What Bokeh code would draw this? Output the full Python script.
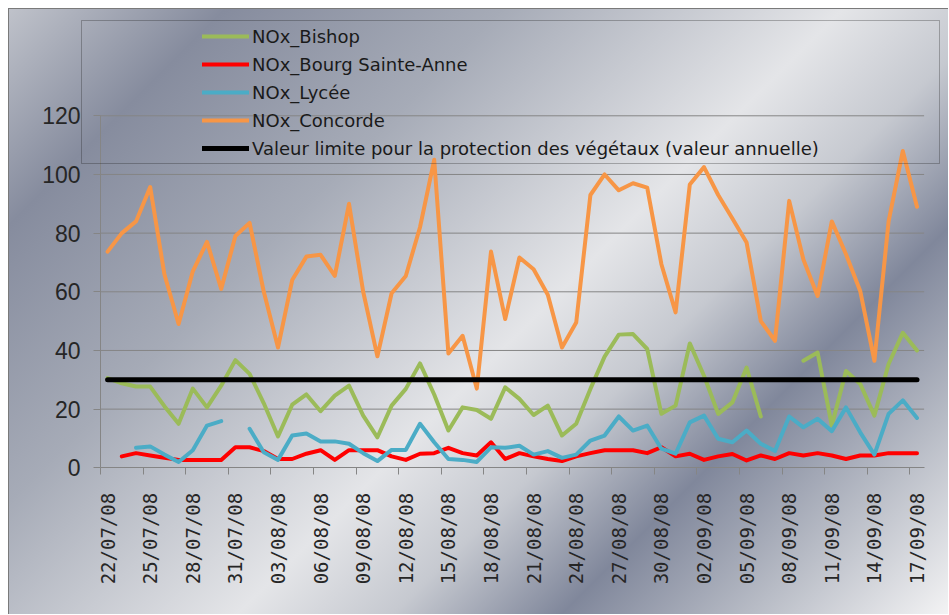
import math
from bokeh.plotting import figure
from bokeh.models import (FixedTicker, LinearAxis, Legend, LegendItem,
                          BoxAnnotation, Range1d, ColumnDataSource)
from bokeh.embed import file_html
from bokeh.resources import INLINE

nan = float("nan")

dates = [
    "22/07/08", "23/07/08", "24/07/08", "25/07/08", "26/07/08", "27/07/08", "28/07/08",
    "29/07/08", "30/07/08", "31/07/08", "01/08/08", "02/08/08", "03/08/08", "04/08/08",
    "05/08/08", "06/08/08", "07/08/08", "08/08/08", "09/08/08", "10/08/08", "11/08/08",
    "12/08/08", "13/08/08", "14/08/08", "15/08/08", "16/08/08", "17/08/08", "18/08/08",
    "19/08/08", "20/08/08", "21/08/08", "22/08/08", "23/08/08", "24/08/08", "25/08/08",
    "26/08/08", "27/08/08", "28/08/08", "29/08/08", "30/08/08", "31/08/08", "01/09/08",
    "02/09/08", "03/09/08", "04/09/08", "05/09/08", "06/09/08", "07/09/08", "08/09/08",
    "09/09/08", "10/09/08", "11/09/08", "12/09/08", "13/09/08", "14/09/08", "15/09/08",
    "16/09/08", "17/09/08",
]

tick_labels = [
    "22/07/08", "25/07/08", "28/07/08", "31/07/08", "03/08/08", "06/08/08", "09/08/08",
    "12/08/08", "15/08/08", "18/08/08", "21/08/08", "24/08/08", "27/08/08", "30/08/08",
    "02/09/08", "05/09/08", "08/09/08", "11/09/08", "14/09/08", "17/09/08",
]

y_ticks = [0, 20, 40, 60, 80, 100, 120]

nox_bishop = [
    30.6, 28.8, 27.7, 27.7, 21.0, 15.0, 27.0, 20.6, 28.0, 36.7,
    32.0, 22.0, 10.7, 21.5, 25.0, 19.3, 24.6, 28.0, 17.8, 10.4,
    21.2, 26.9, 35.6, 25.0, 12.7, 20.6, 19.7, 16.7, 27.4, 23.5,
    18.0, 21.2, 11.0, 15.0, 26.9, 37.9, 45.4, 45.6, 40.5, 18.4,
    21.2, 42.4, 31.4, 18.4, 22.3, 34.2, 17.5, nan, nan, 36.5,
    39.3, 14.4, 33.0, 28.6, 17.8, 35.4, 46.0, 40.0,
]

nox_bourg = [
    nan, 3.9, 5.0, 4.2, 3.4, 2.7, 2.7, 2.7, 2.7, 7.0,
    7.0, 5.7, 3.0, 3.0, 4.8, 6.0, 2.7, 6.0, 6.0, 6.0,
    3.9, 2.7, 4.8, 5.0, 6.8, 5.0, 4.2, 8.7, 3.0, 5.0,
    3.9, 3.0, 2.3, 3.9, 5.0, 6.0, 6.0, 6.0, 5.0, 7.0,
    3.9, 4.8, 2.7, 3.9, 4.7, 2.5, 4.2, 3.0, 5.0, 4.2,
    5.0, 4.2, 3.0, 4.2, 4.2, 5.0, 5.0, 5.0,
]

nox_lycee = [
    nan, nan, 6.8, 7.3, 4.5, 2.0, 6.0, 14.4, 15.9, nan,
    13.3, 5.3, 2.7, 11.0, 11.7, 9.0, 9.0, 8.2, 5.0, 2.3,
    6.1, 6.1, 15.0, 8.7, 3.0, 2.7, 2.0, 7.0, 6.8, 7.5,
    4.5, 5.7, 3.4, 4.5, 9.3, 11.0, 17.5, 12.7, 14.4, 6.5,
    4.8, 15.5, 17.8, 9.9, 8.7, 12.7, 8.2, 5.7, 17.5, 13.8,
    16.7, 12.5, 20.6, 12.1, 4.5, 18.4, 23.0, 17.0,
]

nox_concorde = [
    73.7, 80.0, 84.0, 95.7, 66.0, 49.0, 67.0, 77.0, 61.0, 79.0,
    83.5, 60.0, 41.0, 64.0, 72.0, 72.6, 65.4, 90.0, 60.0, 38.0,
    59.5, 65.4, 82.0, 105.0, 39.0, 45.0, 27.0, 73.7, 50.7, 71.7,
    67.7, 59.0, 41.0, 49.5, 93.0, 100.0, 94.6, 97.0, 95.5, 69.4,
    53.0, 96.6, 102.5, 93.0, 85.0, 76.8, 50.0, 43.3, 91.0, 71.0,
    58.6, 84.0, 72.8, 60.3, 36.5, 84.0, 108.0, 89.0,
]

limit_vegetaux = [30.0] * len(dates)

series_names = ["NOx_Bishop", "NOx_Bourg Sainte-Anne", "NOx_Lycée", "NOx_Concorde",
                "Valeur limite pour la protection des végétaux (valeur annuelle)"]
series_colors = ["#9bbb59", "#ff0000", "#4bacc6", "#f79646", "#000000"]

# ---- layout (pixels inside the figure) ----
W, H = 940, 606
PLOT_L, PLOT_R = 91.0, 914.6      # x = -0.5 .. n-0.5
PLOT_T, PLOT_B = 106.3, 458.3     # y = 120 .. 0
Y_MAX = 120.0

n = len(dates)
kx = (PLOT_R - PLOT_L) / n
ky = (PLOT_B - PLOT_T) / Y_MAX
x_start = -0.5 - PLOT_L / kx
x_end = x_start + W / kx
y_end = Y_MAX + PLOT_T / ky
y_start = -(H - PLOT_B) / ky


def px_x(px):
    return x_start + px / kx


def px_y(py):
    return y_end - py / ky


idx = list(range(n))
source = ColumnDataSource(dict(x=idx, bishop=nox_bishop, bourg=nox_bourg, lycee=nox_lycee,
                               concorde=nox_concorde, limit=limit_vegetaux))

p = figure(width=W, height=H, output_backend="svg", toolbar_location=None,
           x_range=Range1d(x_start, x_end), y_range=Range1d(y_start, y_end),
           min_border=0, min_border_left=0, min_border_right=0,
           min_border_top=0, min_border_bottom=0, x_axis_location=None)
p.background_fill_color = None
p.border_fill_color = None
p.outline_line_color = None
p.styles = {
    "background": "linear-gradient(135deg, #bfc2ca 0%, #868c9e 14%, #a6abb7 32%, "
                  "#e4e5e8 54%, #c6c9d0 64%, #80879b 75%, #b7bbc5 87%, #f3f3f4 100%)",
    "border-left": "1px solid #7a7a7a",
    "border-top": "1px solid #7a7a7a",
    "margin-left": "8px",
    "margin-top": "8px",
}

# horizontal gridlines between first and last category bounds
grid_src = ColumnDataSource(dict(y=y_ticks[1:], x0=[-0.5] * (len(y_ticks) - 1),
                                 x1=[n - 0.5] * (len(y_ticks) - 1)))
p.segment(x0="x0", y0="y", x1="x1", y1="y", source=grid_src,
          line_color="#858585", line_width=1)
p.xgrid.visible = False
p.ygrid.visible = False

renderers = []
for col, color, w in [("bishop", series_colors[0], 4), ("bourg", series_colors[1], 4),
                      ("lycee", series_colors[2], 4), ("concorde", series_colors[3], 4),
                      ("limit", series_colors[4], 5)]:
    r = p.line("x", col, source=source, line_color=color, line_width=w,
               line_join="round", line_cap="round")
    renderers.append(r)

# y axis
yax = p.yaxis[0]
yax.fixed_location = -0.5
yax.bounds = (0, Y_MAX)
yax.ticker = FixedTicker(ticks=y_ticks)
yax.axis_line_color = "#858585"
yax.major_tick_line_color = "#858585"
yax.major_tick_out = 7
yax.major_tick_in = 0
yax.minor_tick_line_color = None
yax.major_label_standoff = 13
yax.major_label_text_font = "Liberation Sans"
yax.major_label_text_font_size = "23px"
yax.major_label_text_color = "#262626"

# x axis: labels at category centres, tick marks at category boundaries
label_pos = [dates.index(t) for t in tick_labels]
bounds = [i - 0.5 for i in label_pos]
xax = LinearAxis(ticker=FixedTicker(ticks=label_pos, minor_ticks=bounds),
                 major_label_overrides={pos: lab for pos, lab in zip(label_pos, tick_labels)})
xax.fixed_location = 0
xax.bounds = (-0.5, n - 0.5)
xax.axis_line_color = "#858585"
xax.major_tick_line_color = None
xax.major_tick_out = 0
xax.major_tick_in = 0
xax.minor_tick_line_color = "#858585"
xax.minor_tick_out = 7
xax.minor_tick_in = 0
xax.major_label_orientation = math.pi / 2
xax.major_label_standoff = 18
xax.major_label_text_font = "DejaVu Sans Mono"
xax.major_label_text_font_size = "19px"
xax.major_label_text_color = "#262626"
p.add_layout(xax, "below")

# legend frame
box = BoxAnnotation(left=px_x(72), right=px_x(930), top=px_y(11), bottom=px_y(154),
                    fill_alpha=0, line_color="#1e1e1e", line_width=1)
p.add_layout(box)

legend = Legend(items=[LegendItem(label=nm, renderers=[r]) for nm, r in zip(series_names, renderers)],
                location=(193, 456), orientation="vertical",
                glyph_width=47, glyph_height=22, label_height=22, spacing=6,
                padding=0, margin=0, label_standoff=3,
                border_line_alpha=0, background_fill_alpha=0,
                label_text_font="DejaVu Sans", label_text_font_size="18px",
                label_text_color="#1a1a1a")
p.add_layout(legend)

open("out.html", "w").write(file_html(p, INLINE))
